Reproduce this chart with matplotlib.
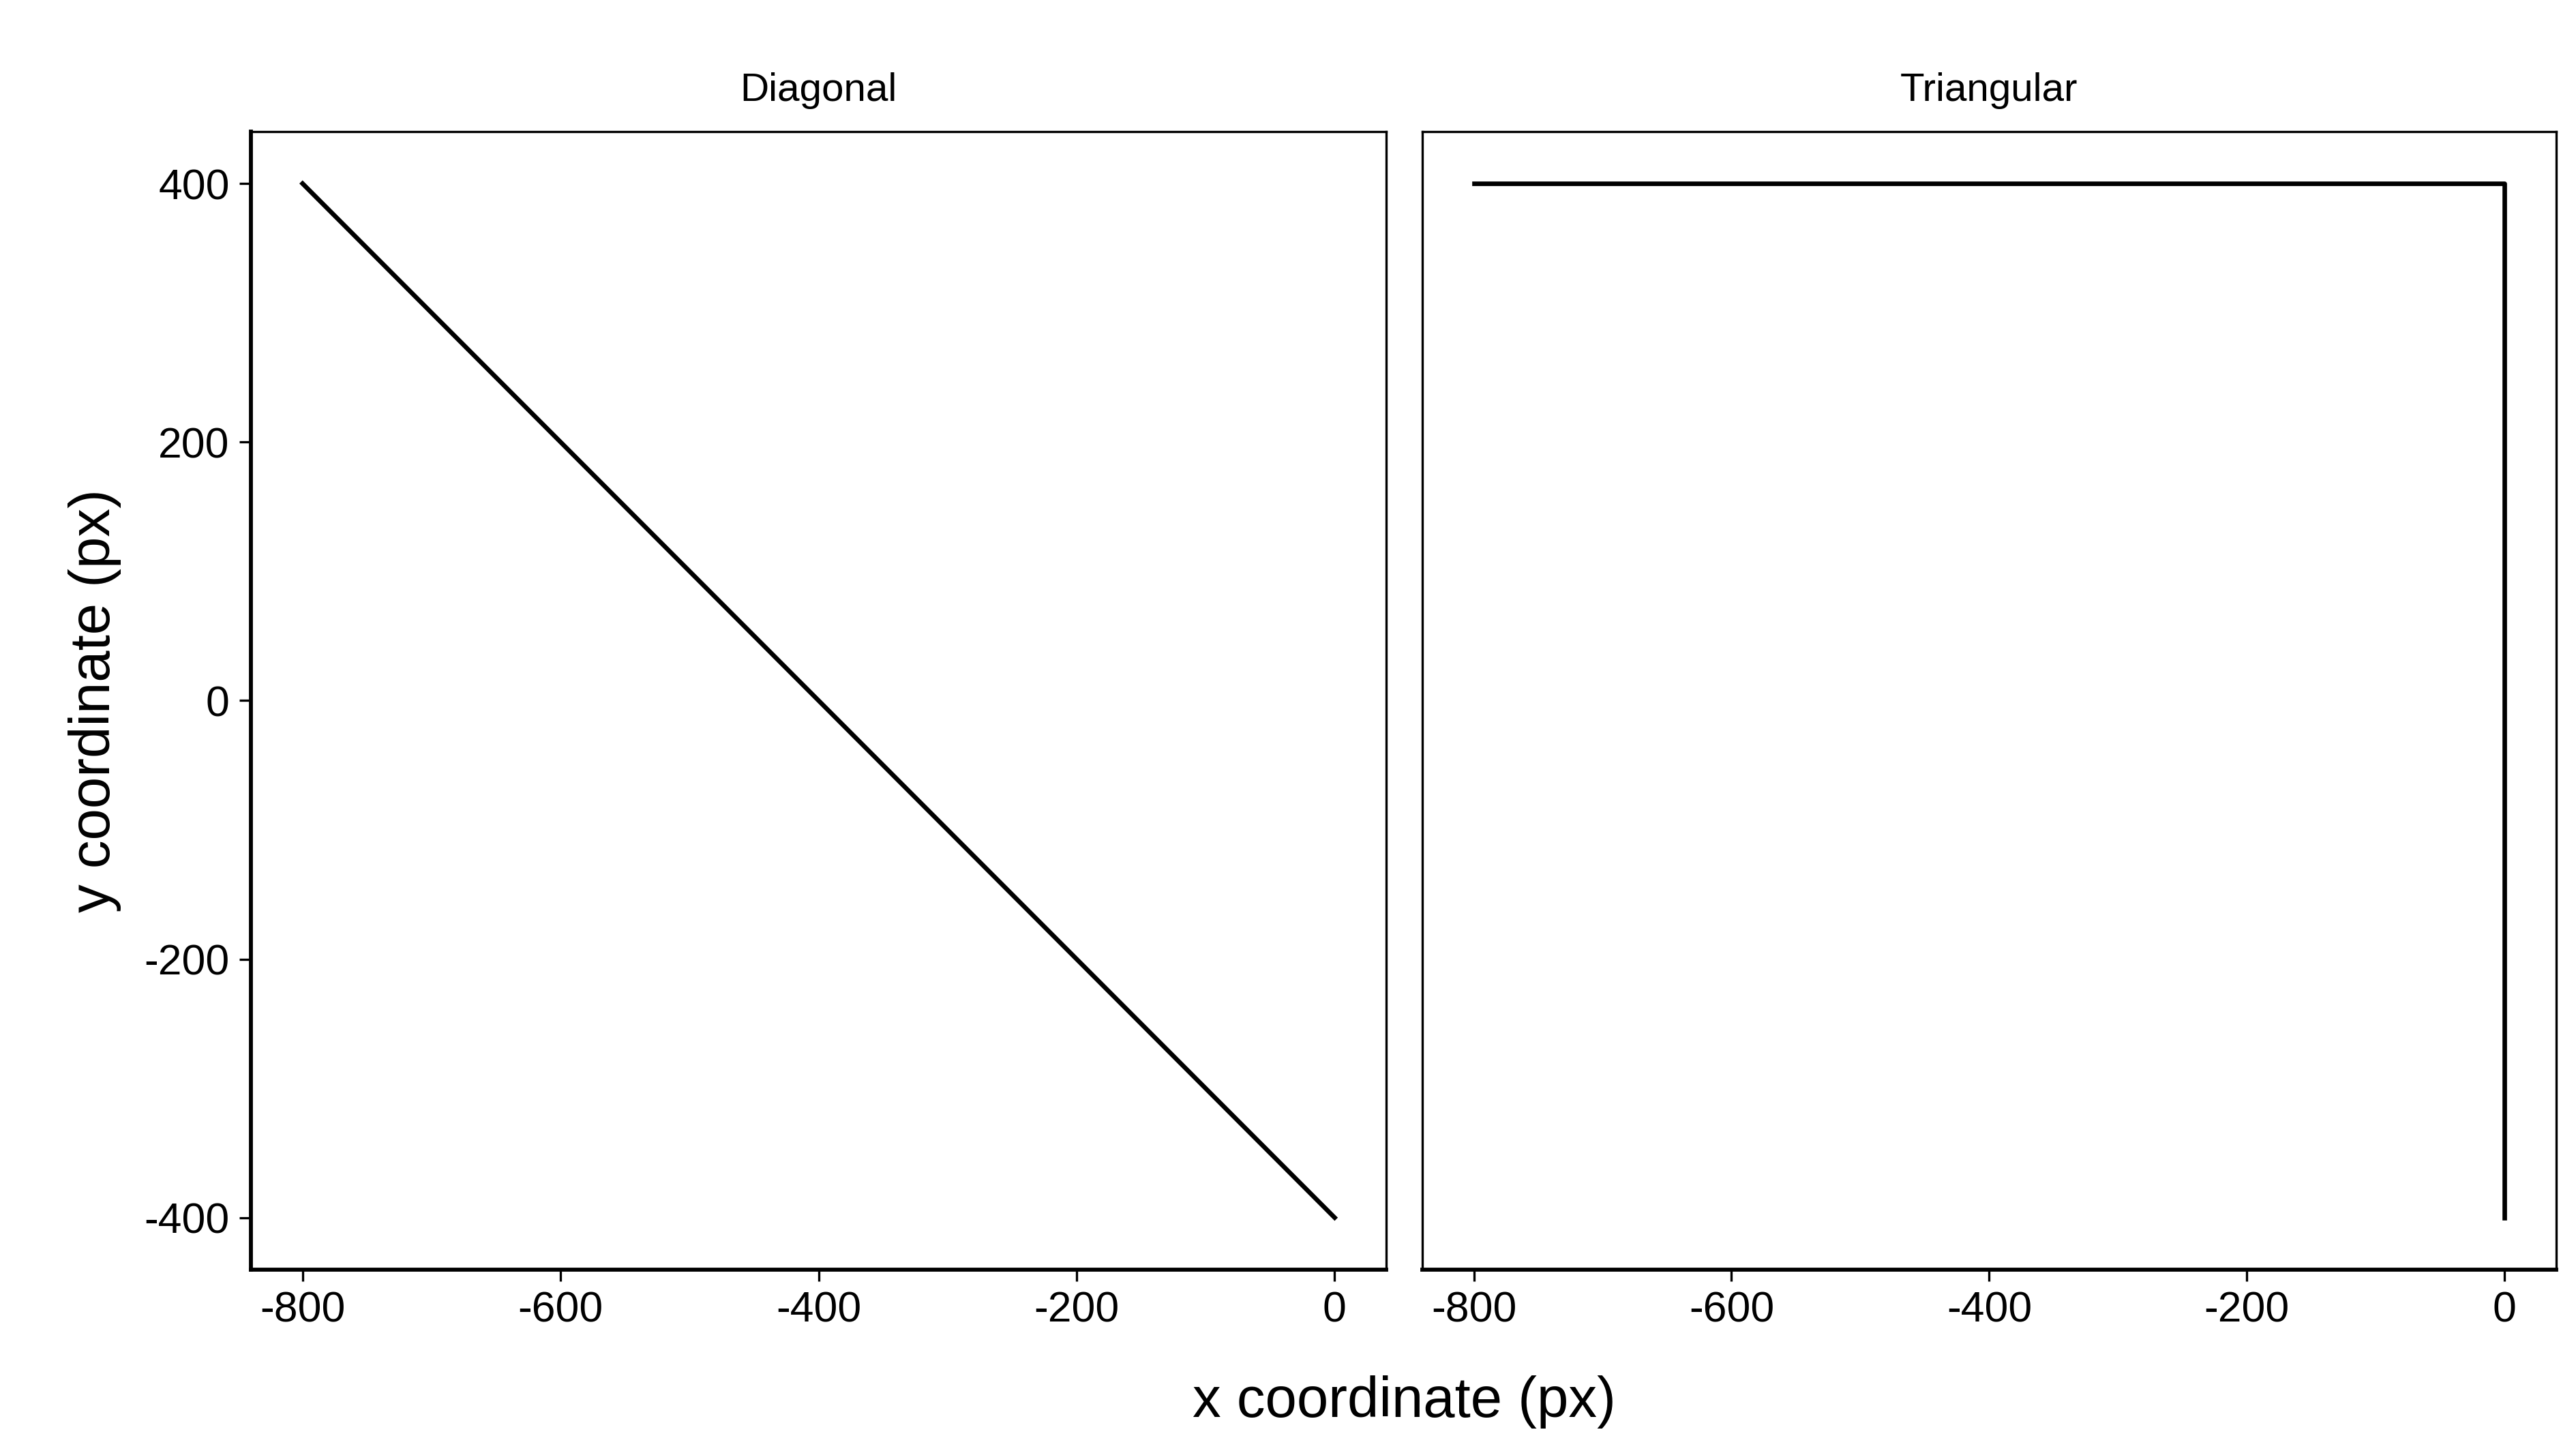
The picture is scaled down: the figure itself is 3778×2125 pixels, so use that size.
import numpy as np
import matplotlib.pyplot as plt

plt.rcParams['font.family'] = ['Liberation Sans', 'DejaVu Sans']

panels = ['Diagonal', 'Triangular']
diag_x = [-800, 0]
diag_y = [400, -400]
tri_x = [-800, 0, 0]
tri_y = [400, 400, -400]
xticks = [-800, -600, -400, -200, 0]
yticks = [-400, -200, 0, 200, 400]

fig = plt.figure(figsize=(3779/300, 2125/300), dpi=300)
ax1 = fig.add_axes([0.0974, 0.124, 0.4406, 0.785])
ax2 = fig.add_axes([0.552, 0.124, 0.440, 0.785])

for ax, name, xs, ys in [(ax1, panels[0], diag_x, diag_y), (ax2, panels[1], tri_x, tri_y)]:
    ax.plot(xs, ys, color='black', lw=1.6)
    ax.set_xlim(-840, 40)
    ax.set_ylim(-440, 440)
    ax.set_xticks(xticks)
    ax.set_xticklabels([str(t) for t in xticks])
    ax.set_title(name, fontsize=14, pad=11)
    for s in ax.spines.values():
        s.set_linewidth(0.8)
    ax.spines['bottom'].set_linewidth(1.4)
    ax.tick_params(labelsize=15, width=0.8, length=4)

ax1.spines['left'].set_linewidth(1.4)
ax1.set_yticks(yticks)
ax1.set_yticklabels([str(t) for t in yticks])
ax1.set_ylabel('y coordinate (px)', fontsize=20, labelpad=8)
ax2.set_yticks([])
fig.text(0.545, 0.022, 'x coordinate (px)', fontsize=20, ha='center')

fig.savefig('out.png', dpi=300)
